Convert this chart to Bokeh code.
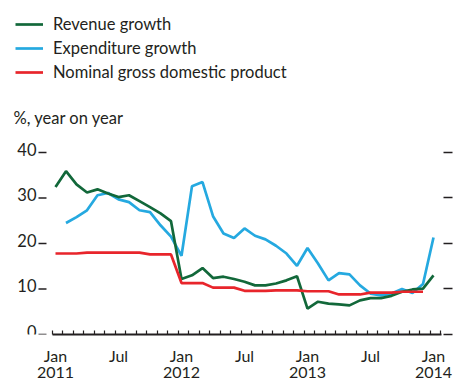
from bokeh.plotting import figure
from bokeh.models import (Range1d, FixedTicker, LinearAxis, Legend, LegendItem,
                          Label, ColumnDataSource)
from bokeh.core.properties import value
from bokeh.embed import file_html
from bokeh.resources import INLINE

# ---- data (monthly, Jan 2011 .. Jan 2014) ----
months = [f"{y}-{m:02d}" for y in (2011, 2012, 2013) for m in range(1, 13)] + ["2014-01"]

revenue = [32.4, 35.9, 33.0, 31.2, 31.9, 31.0, 30.2, 30.6, 29.3, 28.0, 26.6, 24.9,
           12.2, 13.0, 14.6, 12.4, 12.7, 12.2, 11.6, 10.8, 10.8, 11.2, 11.9, 12.8,
           5.7, 7.2, 6.8, 6.6, 6.4, 7.5, 8.0, 8.0, 8.5, 9.4, 9.9, 10.1,
           13.0]

expenditure = [float("nan"), 24.5, 25.8, 27.3, 30.6, 31.1, 29.7, 29.1, 27.3, 26.9, 24.0, 21.5,
               17.3, 32.6, 33.5, 26.0, 22.2, 21.2, 23.3, 21.7, 20.9, 19.5, 17.8, 15.1,
               19.0, 15.6, 11.9, 13.5, 13.2, 10.8, 9.0, 8.6, 9.0, 10.0, 9.1, 11.1,
               21.3]

nominal_gdp = [17.8, 17.8, 17.8, 18.0, 18.0, 18.0, 18.0, 18.0, 18.0, 17.6, 17.6, 17.6,
               11.3, 11.3, 11.3, 10.3, 10.3, 10.3, 9.6, 9.6, 9.6, 9.7, 9.7, 9.7,
               9.5, 9.5, 9.5, 8.8, 8.8, 8.8, 9.2, 9.2, 9.2, 9.4, 9.4, 9.4,
               float("nan")]

y_ticks = [0, 10, 20, 30, 40]
y_tick_labels = ["0", "10", "20", "30", "40"]
x_tick_labels = {0: "Jan\n2011", 6: "Jul", 12: "Jan\n2012", 18: "Jul",
                 24: "Jan\n2013", 30: "Jul", 36: "Jan\n2014"}

series_names = ["Revenue growth", "Expenditure growth", "Nominal gross domestic product"]
subtitle = "%, year on year"

# ---- styling ----
FONT = "Lato"
INK = "#231f20"
GREEN = "#12683a"
BLUE = "#25a9e0"
RED = "#e8252b"
LW = 2.7

x_idx = list(range(len(months)))
src = ColumnDataSource(dict(x=x_idx, rev=revenue, exp=expenditure, gdp=nominal_gdp))

p = figure(width=455, height=383, output_backend="svg", toolbar_location=None,
           x_range=Range1d(-5.238, 36.952), y_range=Range1d(0, 73.4),
           min_border_left=0, min_border_right=12, min_border_top=0,
           min_border_bottom=49, x_axis_location=None, y_axis_location=None)
p.outline_line_color = None
p.grid.visible = False
p.background_fill_color = "white"
p.border_fill_color = "white"

# data lines
r_exp = p.line("x", "exp", source=src, color=BLUE, line_width=LW)
r_rev = p.line("x", "rev", source=src, color=GREEN, line_width=LW)
r_gdp = p.line("x", "gdp", source=src, color=RED, line_width=LW)

# left value scale: tick stubs and labels placed through the y scale
ysrc = ColumnDataSource(dict(x=[x_idx[0] - 1.62] * len(y_ticks), y=y_ticks, t=y_tick_labels))
p.ray(x="x", y="y", source=ysrc, length=8, length_units="screen", angle=0,
      line_color=INK, line_width=1.5)
p.text(x="x", y="y", text="t", source=ysrc, x_offset=-2, y_offset=-3,
       text_align="right", text_baseline="middle", text_font=value(FONT),
       text_font_size="16.5px", text_color=INK)

# right axis (ticks only)
yr = LinearAxis(ticker=FixedTicker(ticks=y_ticks, minor_ticks=[]))
yr.axis_line_color = None
yr.major_tick_out = 9
yr.major_tick_in = 0
yr.major_tick_line_color = INK
yr.major_tick_line_width = 1.5
yr.minor_tick_line_color = None
yr.major_label_standoff = 0
yr.major_label_text_font_size = "0px"
yr.major_label_overrides = {t: "" for t in y_ticks}
p.add_layout(yr, "right")

# bottom axis: monthly ticks, Jan/Jul labels with years
xb = LinearAxis(ticker=FixedTicker(ticks=list(x_tick_labels.keys()),
                                   minor_ticks=[m - 0.31 for m in range(len(months) + 1)]))
xb.bounds = (-0.31, 36.72)
xb.axis_line_color = INK
xb.axis_line_width = 2
xb.major_tick_in = 0
xb.major_tick_out = 0
xb.minor_tick_in = 4
xb.minor_tick_out = 0
xb.minor_tick_line_color = INK
xb.minor_tick_line_width = 1.2
xb.major_label_overrides = x_tick_labels
xb.major_label_standoff = 11
xb.major_label_text_font = FONT
xb.major_label_text_font_size = "16px"
xb.major_label_text_line_height = 0.85
xb.major_label_text_color = INK
p.add_layout(xb, "below")

# legend
legend = Legend(items=[LegendItem(label=series_names[0], renderers=[r_rev]),
                       LegendItem(label=series_names[1], renderers=[r_exp]),
                       LegendItem(label=series_names[2], renderers=[r_gdp])],
                location=(15, 252), orientation="vertical")
legend.margin = 0
legend.padding = 0
legend.border_line_color = None
legend.background_fill_alpha = 0
legend.glyph_width = 28
legend.glyph_height = 20
legend.label_height = 20
legend.spacing = 4
legend.label_standoff = 10
legend.label_text_font = FONT
legend.label_text_font_size = "16.5px"
legend.label_text_color = INK
legend.label_text_baseline = "middle"
p.add_layout(legend, "center")

# subtitle
p.add_layout(Label(x=13, y=47.5, x_units="screen", y_units="data",
                   text=subtitle, text_font=FONT, text_font_size="16.5px",
                   text_color=INK, text_baseline="middle"))

open("out.html", "w").write(file_html(p, INLINE))
